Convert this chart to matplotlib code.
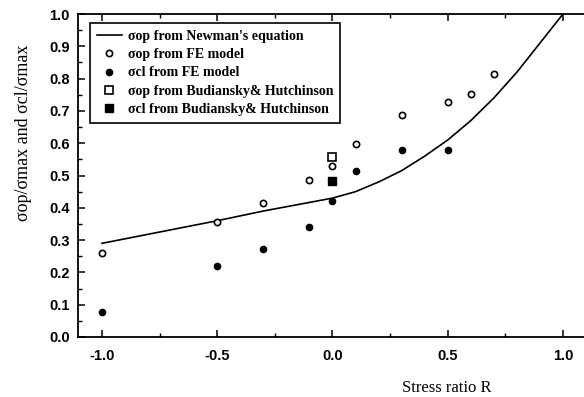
import matplotlib
matplotlib.use("Agg")
import matplotlib.pyplot as plt
from matplotlib.ticker import MultipleLocator

# Newman's equation curve
newman_R = [-1.0, -0.5, -0.3, 0.0, 0.1, 0.2, 0.3, 0.4, 0.5, 0.6, 0.7, 0.8, 0.9, 1.0]
newman_y = [0.29, 0.36, 0.39, 0.43, 0.45, 0.48, 0.515, 0.56, 0.61, 0.67, 0.74, 0.82, 0.91, 1.0]

# FE model
fe_op_R = [-1.0, -0.5, -0.3, -0.1, 0.0, 0.1, 0.3, 0.5, 0.6, 0.7]
fe_op_y = [0.26, 0.356, 0.415, 0.486, 0.53, 0.597, 0.687, 0.727, 0.752, 0.814]
fe_cl_R = [-1.0, -0.5, -0.3, -0.1, 0.0, 0.1, 0.3, 0.5]
fe_cl_y = [0.077, 0.22, 0.272, 0.34, 0.42, 0.514, 0.58, 0.58]

# Budiansky & Hutchinson
bh_op_R = [0.0]
bh_op_y = [0.557]
bh_cl_R = [0.0]
bh_cl_y = [0.483]

W, H = 584, 397
fig = plt.figure(figsize=(W / 100, H / 100), dpi=100)
ax = fig.add_axes([78 / W, (H - 337) / H, (W - 78) / W, (337 - 14) / H])

ax.plot(newman_R, newman_y, color="black", lw=1.2, label="σop from Newman's equation")
ax.plot(fe_op_R, fe_op_y, linestyle="none", marker="o", ms=4.5, mfc="white", mec="black",
        mew=1.2, label="σop from FE model")
ax.plot(fe_cl_R, fe_cl_y, linestyle="none", marker="o", ms=4.5, mfc="black", mec="black",
        label="σcl from FE model")
ax.plot(bh_op_R, bh_op_y, linestyle="none", marker="s", ms=5.5, mfc="white", mec="black",
        mew=1.2, label="σop from Budiansky& Hutchinson")
ax.plot(bh_cl_R, bh_cl_y, linestyle="none", marker="s", ms=5.5, mfc="black", mec="black",
        label="σcl from Budiansky& Hutchinson")

ax.set_xlim(-1.104, 1.091)
ax.set_ylim(0.0, 1.0)
ax.spines["right"].set_visible(False)
for s in ["left", "bottom", "top"]:
    ax.spines[s].set_linewidth(1.3)

ax.xaxis.set_major_locator(MultipleLocator(0.5))
ax.xaxis.set_minor_locator(MultipleLocator(0.25))
ax.yaxis.set_major_locator(MultipleLocator(0.1))
ax.yaxis.set_minor_locator(MultipleLocator(0.05))
ax.tick_params(axis="both", which="major", direction="in", length=5, width=1.1,
               top=True, right=False, labelsize=10.5, pad=6)
ax.tick_params(axis="x", which="major", pad=9)
ax.tick_params(axis="both", which="minor", direction="in", length=3, width=1.0,
               top=True, right=False)
ax.set_xticks([-1.0, -0.5, 0.0, 0.5, 1.0])
ax.set_xticklabels(["-1.0", "-0.5", "0.0", "0.5", "1.0"])
ax.set_yticks([0.0, 0.1, 0.2, 0.3, 0.4, 0.5, 0.6, 0.7, 0.8, 0.9, 1.0])
ax.set_yticklabels(["0.0", "0.1", "0.2", "0.3", "0.4", "0.5", "0.6", "0.7", "0.8", "0.9", "1.0"])
for lab in ax.get_xticklabels() + ax.get_yticklabels():
    lab.set_fontfamily("Liberation Sans")
    lab.set_fontweight("bold")

leg = ax.legend(loc="upper left", bbox_to_anchor=(12 / 506, (337 - 23) / 323),
                frameon=True, fancybox=False, edgecolor="black", framealpha=1,
                prop={"family": "Liberation Serif", "size": 10, "weight": "bold"},
                handlelength=1.8, handletextpad=0.4, borderpad=0.5, labelspacing=0.38,
                borderaxespad=0)
leg.get_frame().set_linewidth(1.2)

fig.text(24 / W, 1 - 133 / H, "σop/σmax and σcl/σmax", rotation=90, ha="center", va="center",
         fontfamily="Liberation Serif", fontsize=13)
fig.text(447 / W, 1 - 388 / H, "Stress ratio R", ha="center", va="center",
         fontfamily="Liberation Serif", fontsize=12)

fig.savefig("out.png", dpi=100)
